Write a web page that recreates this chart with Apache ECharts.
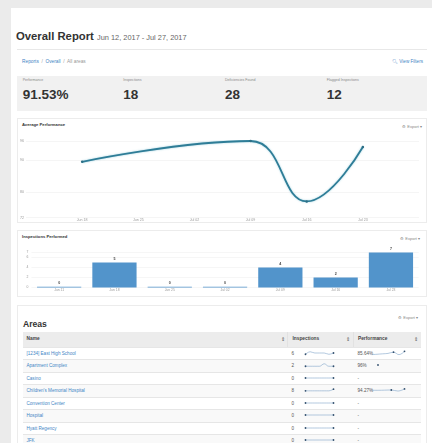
<!DOCTYPE html>
<html><head><meta charset="utf-8">
<script src="https://cdn.jsdelivr.net/npm/echarts@6/dist/echarts.min.js"></script>
<style>
html,body{margin:0;padding:0;}
body{width:432px;height:443px;overflow:hidden;background:#ebebeb;font-family:"Liberation Sans",Arial,sans-serif;position:relative;}
.abs{position:absolute;white-space:nowrap;}
#panel{position:absolute;left:11px;top:8px;width:421px;height:435px;background:#fff;}
.box{position:absolute;border:1px solid #ececec;background:#fff;box-sizing:border-box;}
.tiny{font-size:4px;color:#888;line-height:1;}
.ctitle{font-size:4.2px;font-weight:bold;color:#333;line-height:1;}
.blue{color:#3f86c5;}
.row{position:absolute;left:23px;width:398px;height:12.5px;border-top:0.5px solid #e6e6e6;box-sizing:border-box;}
.cell{position:absolute;font-size:4.6px;line-height:1;top:4px;}
.spark{position:absolute;}
</style></head>
<body>
<div id="panel"></div>
<div class="abs" style="left:16px;top:30.5px;font-size:11.3px;font-weight:bold;color:#333;line-height:1;">Overall Report <span style="font-size:7.4px;font-weight:normal;color:#666;">Jun 12, 2017 - Jul 27, 2017</span></div>
<div class="abs" style="left:17px;top:49px;width:410px;height:0.6px;background:#e8e8e8;"></div>
<div class="abs" style="left:22px;top:59.5px;font-size:4.8px;line-height:1;color:#999;"><span class="blue">Reports</span> &nbsp;/&nbsp; <span class="blue">Overall</span> &nbsp;/&nbsp; All areas</div>
<div class="abs blue" style="right:9px;top:59.5px;font-size:4.6px;line-height:1;">&#x1F50D;&#xFE0E; View Filters</div>
<div class="abs" style="left:17px;top:76px;width:410px;height:35px;background:#f1f1f1;"></div>
<div id="stats"></div>

<div class="box" style="left:17px;top:118px;width:410px;height:105px;"></div>
<div class="abs ctitle" style="left:22px;top:123px;">Average Performance</div>
<div class="abs tiny" style="right:10px;top:125px;">&#9881; Export &#9662;</div>
<div id="lineChart" class="abs" style="left:17px;top:118px;width:410px;height:105px;"></div>

<div class="box" style="left:17px;top:230px;width:410px;height:67px;"></div>
<div class="abs ctitle" style="left:22px;top:235px;">Inspections Performed</div>
<div class="abs tiny" style="right:12px;top:237px;">&#9881; Export &#9662;</div>
<div id="barChart" class="abs" style="left:17px;top:230px;width:410px;height:67px;"></div>

<div class="box" style="left:17px;top:305px;width:410px;height:150px;"></div>
<div class="abs" style="left:23px;top:319.5px;font-size:8.6px;font-weight:bold;color:#333;line-height:1;">Areas</div>
<div class="abs tiny" style="right:14px;top:315.5px;">&#9881; Export &#9662;</div>
<div class="abs" style="left:23px;top:332px;width:398px;height:15px;background:#ececec;"></div>
<div class="abs" style="left:286.5px;top:332px;width:0.6px;height:120px;background:#e2e2e2;"></div>
<div class="abs" style="left:352.5px;top:332px;width:0.6px;height:120px;background:#e2e2e2;"></div>
<div class="abs" style="left:26.5px;top:337px;font-size:4.8px;font-weight:bold;color:#444;line-height:1;">Name</div>
<div class="abs" style="left:280.5px;top:336.5px;font-size:5px;color:#555;line-height:1;">&#8661;</div>
<div class="abs" style="left:292.5px;top:337px;font-size:4.8px;font-weight:bold;color:#444;line-height:1;">Inspections</div>
<div class="abs" style="left:345.5px;top:336.5px;font-size:5px;color:#555;line-height:1;">&#8661;</div>
<div class="abs" style="left:358px;top:337px;font-size:4.8px;font-weight:bold;color:#444;line-height:1;">Performance</div>
<div class="abs" style="left:413.5px;top:336.5px;font-size:5px;color:#555;line-height:1;">&#8661;</div>
<div id="rows"></div>

<script>
// ---- data ----
const statLabels = ['Performance', 'Inspections', 'Deficiencies Found', 'Flagged Inspections'];
const statValues = ['91.53%', '18', '28', '12'];

const perfAxisWeeks = ['Jun 11', 'Jun 18', 'Jun 25', 'Jul 02', 'Jul 09', 'Jul 16', 'Jul 23', 'Jul 30'];
const perfDates = ['Jun 18', 'Jul 09', 'Jul 16', 'Jul 23'];
const perfValues = [89.5, 96, 77.1, 94.1];
const perfMin = 72, perfMax = 96;

const inspWeeks = ['Jun 11', 'Jun 18', 'Jun 25', 'Jul 02', 'Jul 09', 'Jul 16', 'Jul 23'];
const inspCounts = [0, 5, 0, 0, 4, 2, 7];
const inspMax = 7;

const areaNames = ['[1234] East High School', 'Apartment Complex', 'Casino', "Children's Memorial Hospital", 'Convention Center', 'Hospital', 'Hyatt Regency', 'JFK'];
const areaInspections = [6, 2, 0, 8, 0, 0, 0, 0];
const areaPerformance = ['85.64%', '96%', '-', '94.27%', '-', '-', '-', '-'];
const areaInspSpark = [
  [0, 2, 1, 1, 1, 0, 1],
  [0, 0, 0, 0, 2, 0, 0],
  [0, 0, 0, 0, 0, 0, 0],
  [1, 1, 1, 1, 1, 1, 2],
  [0, 0, 0, 0, 0, 0, 0],
  [0, 0, 0, 0, 0, 0, 0],
  [0, 0, 0, 0, 0, 0, 0],
  [0, 0, 0, 0, 0, 0, 0]
];
const areaPerfSpark = [
  [84, 84.5, 85, 85.5, 87, 84, 88],
  [96],
  null,
  [94.3, 94.3, 94.4, 94.5, 93.8, 95.2],
  null, null, null, null
];

// ---- stats ----
const statX = [22.7, 123.3, 225, 326.7];
let sh = '';
statLabels.forEach((l, i) => {
  sh += `<div class="abs" style="left:${statX[i]}px;top:79px;font-size:3.6px;color:#888;line-height:1;">${l}</div>`;
  sh += `<div class="abs" style="left:${statX[i]}px;top:88px;font-size:13.5px;font-weight:bold;color:#333;line-height:1;">${statValues[i]}</div>`;
});
document.getElementById('stats').innerHTML = sh;

// ---- table rows ----
const rowTop0 = 347;
let rh = '';
areaNames.forEach((n, i) => {
  const top = rowTop0 + i * 12.45;
  const bg = i % 2 === 0 ? '#fff' : '#f9f9f9';
  rh += `<div class="row" style="top:${top}px;background:${bg};">
    <div class="cell blue" style="left:3.5px;">${n.replace("'", '&#39;')}</div>
    <div class="cell" style="left:268.5px;color:#555;">${areaInspections[i]}</div>
    <div class="cell" style="left:334.5px;color:#555;">${areaPerformance[i]}</div>
  </div>`;
  rh += `<div class="spark" id="si${i}" style="left:304px;top:${top + 2}px;width:31px;height:8px;"></div>`;
  if (areaPerfSpark[i]) {
    const single = areaPerfSpark[i].length === 1;
    rh += `<div class="spark" id="sp${i}" style="left:${single ? 376 : 370}px;top:${top + 2}px;width:${single ? 4 : 36}px;height:8px;"></div>`;
  }
});
document.getElementById('rows').innerHTML = rh;

// ---- line chart ----
const lc = echarts.init(document.getElementById('lineChart'), null, {renderer: 'canvas'});
lc.setOption({
  animation: false,
  grid: {left: 9, right: 8, top: 23, bottom: 5.3},
  xAxis: {
    type: 'category', data: perfAxisWeeks, boundaryGap: false,
    axisLine: {show: false}, axisTick: {show: false},
    axisLabel: {fontSize: 3.6, color: '#999', margin: 0.5, fontFamily: 'Liberation Sans',
      interval: (idx) => idx > 0 && idx < perfAxisWeeks.length - 1}
  },
  yAxis: {
    type: 'value', min: perfMin, max: perfMax, splitNumber: 2,
    axisLine: {show: false}, axisTick: {show: false},
    axisLabel: {fontSize: 3.6, color: '#999', margin: 2, fontFamily: 'Liberation Sans'},
    splitLine: {lineStyle: {color: '#eeeeee', width: 0.6}}
  },
  series: [{
    type: 'line', smooth: 0.45,
    data: perfDates.map((d, i) => [d, perfValues[i]]),
    symbol: 'circle', symbolSize: 2.5,
    itemStyle: {color: '#2c6f86'},
    lineStyle: {color: '#2f7d97', width: 1.8, shadowColor: 'rgba(120,190,210,0.7)', shadowBlur: 2}
  }]
});

// ---- bar chart ----
const bc = echarts.init(document.getElementById('barChart'), null, {renderer: 'canvas'});
bc.setOption({
  animation: false,
  grid: {left: 14.5, right: 8.4, top: 22.5, bottom: 9.5},
  xAxis: {
    type: 'category', data: inspWeeks,
    axisLine: {show: false}, axisTick: {show: false},
    axisLabel: {fontSize: 3.4, color: '#999', margin: 0.8, fontFamily: 'Liberation Sans'}
  },
  yAxis: {
    type: 'value', min: 0, max: inspMax, interval: 2,
    axisLine: {show: false}, axisTick: {show: false},
    axisLabel: {fontSize: 3.4, color: '#999', margin: 3, fontFamily: 'Liberation Sans'},
    splitLine: {lineStyle: {color: '#f0f0f0', width: 0.6}}
  },
  series: [{
    type: 'bar', data: inspCounts, barCategoryGap: '20%', barMinHeight: 0.8,
    itemStyle: {color: '#5294cb'},
    label: {show: true, position: 'top', distance: 2, fontSize: 3.6, fontWeight: 'bold', color: '#444', fontFamily: 'Liberation Sans'}
  }]
});

// ---- sparklines ----
function spark(id, vals, opts) {
  const el = document.getElementById(id);
  if (!el) return;
  const c = echarts.init(el, null, {renderer: 'canvas'});
  const last = vals.length - 1;
  c.setOption({
    animation: false,
    grid: {left: vals.length === 1 ? 0 : 1.5, right: vals.length === 1 ? 0 : 1.5, top: 1.5, bottom: 1.5},
    xAxis: {type: 'category', show: false, boundaryGap: false, data: vals.map((v, i) => i)},
    yAxis: {type: 'value', show: false, min: v => v.min - opts.pad, max: v => v.max + opts.pad},
    series: [{
      type: 'line', data: vals, smooth: 0.4,
      symbol: 'circle',
      symbolSize: (v, p) => (opts.dots.includes(p.dataIndex - last) || p.dataIndex === 0 && opts.first) ? 1.8 : 0,
      showAllSymbol: true,
      itemStyle: {color: '#34506e'},
      lineStyle: {color: '#7fa5c9', width: 0.6}
    }]
  });
}
areaInspSpark.forEach((v, i) => spark('si' + i, v, {pad: 1, dots: [0], first: true}));
areaPerfSpark.forEach((v, i) => { if (v) spark('sp' + i, v, {pad: 1, dots: [0, -2], first: false}); });
</script>
</body></html>
